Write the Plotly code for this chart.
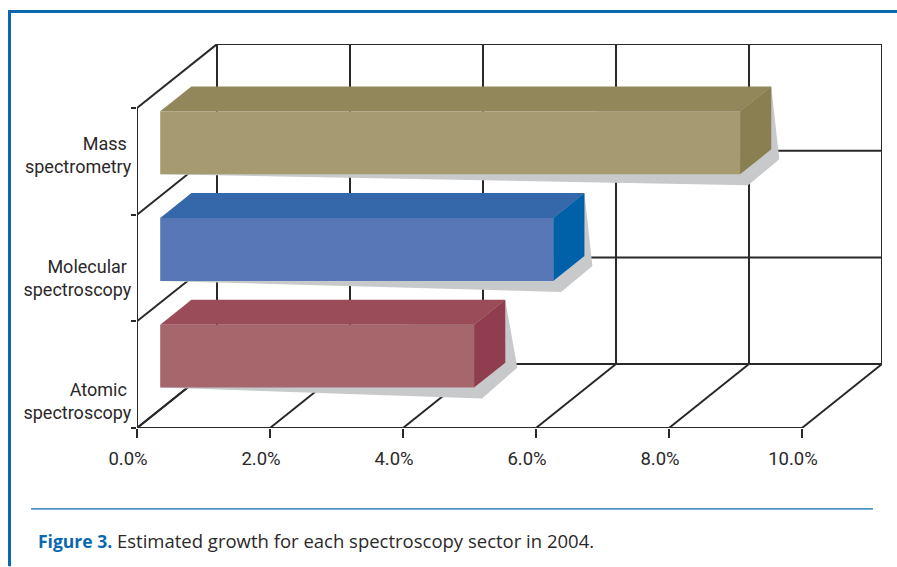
import plotly.graph_objects as go

# ---- data ----
categories = ["Atomic spectroscopy", "Molecular spectroscopy", "Mass spectrometry"]
growth = [4.72, 5.91, 8.72]
x_ticks = [0, 2, 4, 6, 8, 10]
x_tick_labels = ["0.0%", "2.0%", "4.0%", "6.0%", "8.0%", "10.0%"]
y_label_text = ["Atomic\u00a0<br>spectroscopy", "Molecular\u00a0<br>spectroscopy", "Mass\u00a0<br>spectrometry"]

# ---- style ----
front_colors = ["#a5666c", "#5877b7", "#a59a70"]
top_colors = ["#9a4d59", "#3568aa", "#92875b"]
side_colors = ["#913d50", "#0060a8", "#8a7f50"]
SHADOW = "#c8c9cb"
INK = "#2b2829"
BLUE = "#0b68af"

W, H = 897, 567
PX_X = 66.5     # pixels per percent
PX_Y = 106.8    # pixels per category band
ML, MR, MT, MB = 137, 15, 44, 138.5
DX, DY = 80 / PX_X, 64 / PX_Y       # oblique depth vector in data units
D0, D1 = 0.29, 0.68                 # bar near and far depth
GAP = 0.205                         # band padding
n = len(categories)


def proj(v, c, d=0.0):
    return v + d * DX, c + d * DY


def px(dx=0, dy=0):
    return dx / PX_X, -dy / PX_Y


def line(points):
    xs, ys = zip(*points)
    fig.add_trace(go.Scatter(x=xs, y=ys, mode="lines", cliponaxis=False, hoverinfo="skip",
                             line=dict(color=INK, width=2), showlegend=False))


def poly(points, color):
    xs, ys = zip(*(list(points) + [points[0]]))
    fig.add_trace(go.Scatter(x=xs, y=ys, mode="lines", fill="toself", fillcolor=color, cliponaxis=False,
                             hoverinfo="skip", line=dict(width=0, color=color), showlegend=False))


fig = go.Figure()

# frame: left wall, floor, back wall
line([proj(0, 0), proj(0, n)])
line([proj(0, 0), proj(x_ticks[-1], 0)])
for c in range(n + 1):
    line([proj(0, c), proj(0, c, 1)])
    line([proj(0, c, 1), proj(x_ticks[-1], c, 1)])
for v in x_ticks:
    line([proj(v, 0), proj(v, 0, 1)])
    line([proj(v, 0, 1), proj(v, n, 1)])

# bars
shadow_far = [(12, 5), (8, 10), (8, 10)]
for i, val in enumerate(growth):
    lo, hi = i + GAP, i + 1 - GAP
    sx, sy = px(8, 11)
    fx, fy = px(*shadow_far[i])
    a = proj(val, lo, D0)
    b = proj(val, lo, D1)
    poly([proj(0, lo, D0), (a[0] + sx, a[1] + sy), (b[0] + fx, b[1] + fy), proj(val, hi, D1)], SHADOW)
    poly([proj(0, hi, D0), proj(val, hi, D0), proj(val, hi, D1), proj(0, hi, D1)], top_colors[i])
    poly([proj(val, lo, D0), proj(val, lo, D1), proj(val, hi, D1), proj(val, hi, D0)], side_colors[i])
    poly([proj(0, lo, D0), proj(val, lo, D0), proj(val, hi, D0), proj(0, hi, D0)], front_colors[i])

pw, ph = W - ML - MR, H - MT - MB


def pax(x):
    return (x - ML) / pw


def pay(y):
    return (H - MB - y) / ph


shapes = [
    dict(type="line", xref="paper", yref="paper", x0=pax(9.5), x1=pax(W), y0=pay(11.5), y1=pay(11.5),
         line=dict(color=BLUE, width=3)),
    dict(type="line", xref="paper", yref="paper", x0=pax(9.5), x1=pax(9.5), y0=pay(10), y1=pay(H),
         line=dict(color=BLUE, width=3)),
    dict(type="line", xref="paper", yref="paper", x0=pax(31), x1=pax(873), y0=pay(509.5), y1=pay(509.5),
         line=dict(color=BLUE, width=1.2)),
]

fig.update_layout(
    width=W, height=H, margin=dict(l=ML, r=MR, t=MT, b=MB, autoexpand=False),
    paper_bgcolor="white", plot_bgcolor="rgba(0,0,0,0)", showlegend=False, shapes=shapes,
    font=dict(family="Roboto", color=INK),
    annotations=[dict(
        xref="paper", yref="paper", x=pax(36), y=pay(541), xanchor="left", yanchor="middle", showarrow=False,
        text=f'<b><span style="color:{BLUE};font-size:17.5px">Figure 3.</span></b> Estimated growth for each spectroscopy sector in 2004.',
        font=dict(family="Open Sans", size=18.5, color=INK),
    )],
)
fig.update_xaxes(range=[0, (W - ML - MR) / PX_X], showgrid=False, zeroline=False, showline=False,
                 tickmode="array", tickvals=x_ticks, ticktext=x_tick_labels, ticks="outside", ticklen=9,
                 tickwidth=2, tickcolor=INK, ticklabelshift=-9, ticklabelstandoff=5,
                 tickfont=dict(size=18.5, color=INK))
fig.update_yaxes(range=[0, (H - MT - MB) / PX_Y], showgrid=False, zeroline=False, showline=False,
                 tickmode="array", tickvals=[0.253, 1.406, 2.56], ticktext=y_label_text, ticks="outside",
                 ticklen=0, tickcolor=INK, ticklabelstandoff=1, tickfont=dict(size=18, color=INK),
                 minor=dict(tickmode="array", tickvals=list(range(n + 1)), ticks="outside", ticklen=5,
                            tickwidth=2, tickcolor=INK))

fig.write_html("out.html", config={"displayModeBar": False},
               post_script="document.body.style.margin='0';document.body.style.overflow='hidden';")
